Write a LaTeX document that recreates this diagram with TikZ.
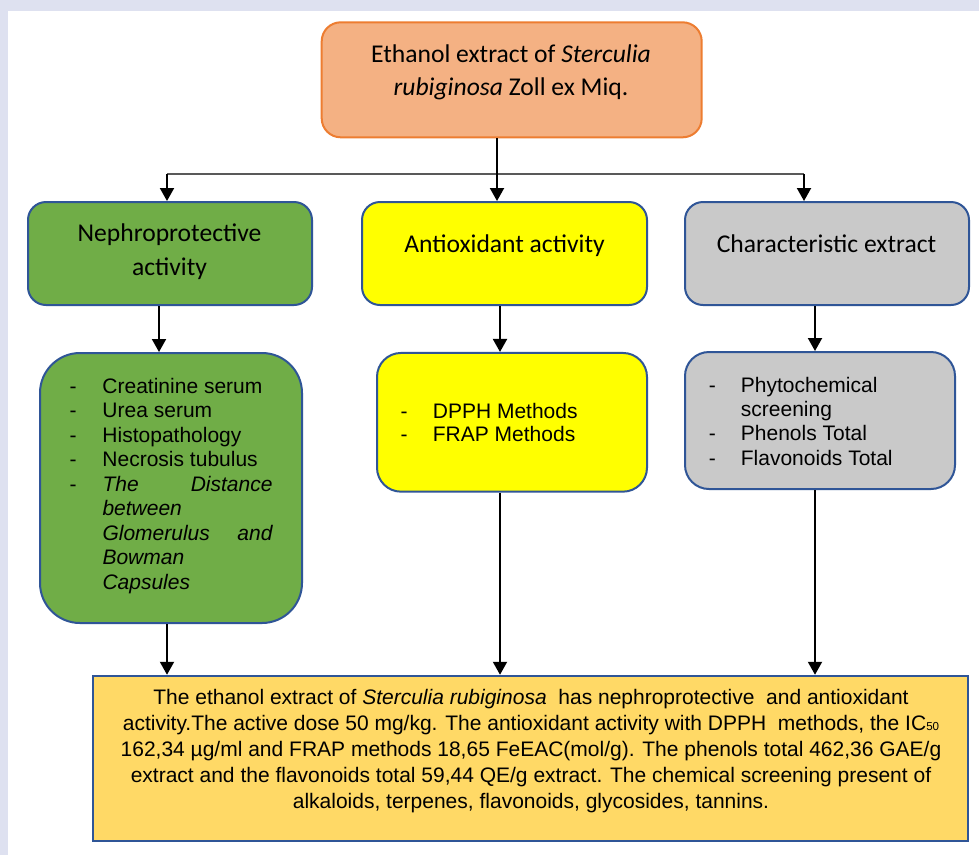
\documentclass[tikz,border=0pt]{standalone}
\usepackage{fontspec}
\setmainfont{Carlito}
\newfontfamily\arial{Liberation Sans}
\usetikzlibrary{arrows.meta}
\definecolor{lav}{HTML}{DEE1F0}
\definecolor{orfill}{HTML}{F4B183}
\definecolor{ordraw}{HTML}{ED7D31}
\definecolor{grfill}{HTML}{70AD47}
\definecolor{yefill}{HTML}{FFFF00}
\definecolor{gyfill}{HTML}{C9C9C9}
\definecolor{gofill}{HTML}{FFD966}
\definecolor{bblue}{HTML}{2F5597}
\definecolor{hgray}{HTML}{595959}
\begin{document}
\begin{tikzpicture}[x=1pt,y=-1pt,
  box/.style={draw=bblue, line width=2pt, inner sep=0pt},
  arr/.style={line width=2pt, -{Triangle[width=14pt,length=13pt]}},
  hline/.style={line width=1.5pt, draw=hgray},
  hd/.style={font=\fontsize{25.6}{33}\selectfont, inner sep=0pt, anchor=base},
  li/.style={font=\arial\fontsize{21}{24.5}\selectfont, inner sep=0pt, anchor=base west},
  bt/.style={font=\arial\fontsize{21}{26}\selectfont, inner sep=0pt, anchor=base},
]
\useasboundingbox (0,0) rectangle (979,855);
\fill[white] (0,0) rectangle (979,855);
\fill[lav] (0,0) rectangle (979,11);
\fill[lav] (0,0) rectangle (8,855);

% boxes
\node[box, fill=orfill, draw=ordraw, rounded corners=19pt, minimum width=380pt, minimum height=115pt] (src) at (511.7,79.8) {};
\node[box, fill=grfill, rounded corners=18pt, minimum width=284pt, minimum height=103pt] (gre1) at (170,253.5) {};
\node[box, fill=yefill, rounded corners=18pt, minimum width=285pt, minimum height=103pt] (yel1) at (504.5,253.5) {};
\node[box, fill=gyfill, rounded corners=18pt, minimum width=284pt, minimum height=103pt] (gry1) at (827,253.5) {};
\node[box, fill=grfill, rounded corners=40pt, minimum width=262pt, minimum height=270pt] (gre2) at (171,488) {};
\node[box, fill=yefill, rounded corners=24pt, minimum width=270pt, minimum height=138.7pt] (yel2) at (512,422.3) {};
\node[box, fill=gyfill, rounded corners=24pt, minimum width=270pt, minimum height=137pt] (gry2) at (820,420.5) {};
\node[box, fill=gofill, line width=2.5pt, minimum width=875pt, minimum height=165pt] (res) at (530.5,758.5) {};

% connector coordinates
\coordinate (hL) at (167,174);
\coordinate (hM) at (497,174);
\coordinate (hR) at (804,174);
\coordinate (a1) at (159,0);
\coordinate (a2) at (500,0);
\coordinate (a3) at (815,0);
\coordinate (b1) at (167,0);
\coordinate (b2) at (500,0);
\coordinate (b3) at (815,0);

\draw[hline] (hL) -- (hR);
\draw[arr] (src.south -| hM) -- (yel1.north -| hM);
\draw[arr] (hL) -- (gre1.north -| hL);
\draw[arr] (hR) -- (gry1.north -| hR);
\draw[arr] (gre1.south -| a1) -- (gre2.north -| a1);
\draw[arr] (yel1.south -| a2) -- (yel2.north -| a2);
\draw[arr] (gry1.south -| a3) -- (gry2.north -| a3);
\draw[arr] (gre2.south -| b1) -- (res.north -| b1);
\draw[arr] (yel2.south -| b2) -- (res.north -| b2);
\draw[arr] (gry2.south -| b3) -- (res.north -| b3);

% headings
\node[hd] (t1) at (511,62.5) {Ethanol extract of \textit{Sterculia}};
\node[hd] (t2) at (511,95.5) {\textit{rubiginosa} Zoll ex Miq.};
\node[hd] (n1) at (169.5,241.7) {Nephroprotective};
\node[hd] (n2) at (169.5,275) {activity};
\node[hd] (y1t) at (504.5,252.3) {Antioxidant activity};
\node[hd] (c1t) at (826.5,252.7) {Characteristic extract};

% green list
\node[li] (g1) at (69.3,393.3) {\makebox[33pt][l]{-}Creatinine serum};
\node[li] (g2) at (69.3,417.8) {\makebox[33pt][l]{-}Urea serum};
\node[li] (g3) at (69.3,442.3) {\makebox[33pt][l]{-}Histopathology};
\node[li] (g4) at (69.3,466.8) {\makebox[33pt][l]{-}Necrosis tubulus};
\node[li] (g5) at (69.3,491.3) {\makebox[33pt][l]{-}\hbox to 170pt{\itshape The\hfill Distance}};
\node[li] (g6) at (102.3,515.8) {\itshape between};
\node[li] (g7) at (102.3,540.3) {\hbox to 170pt{\itshape Glomerulus\hfill and}};
\node[li] (g8) at (102.3,564.8) {\itshape Bowman};
\node[li] (g9) at (102.3,589.3) {\itshape Capsules};

% yellow list
\node[li] (d1) at (400.3,418) {\makebox[32.4pt][l]{-}DPPH Methods};
\node[li] (d2) at (400.3,441.8) {\makebox[32.4pt][l]{-}FRAP Methods};

% grey list
\node[li] (p1) at (708.6,392.3) {\makebox[32.1pt][l]{-}Phytochemical};
\node[li] (p2) at (740.7,416.5) {screening};
\node[li] (p3) at (708.6,440.7) {\makebox[32.1pt][l]{-}Phenols Total};
\node[li] (p4) at (708.6,465) {\makebox[32.1pt][l]{-}Flavonoids Total};

% result text
\node[bt] (r1) at (531,704) {The ethanol extract of \textit{Sterculia rubiginosa}\ \ has nephroprotective\ \ and antioxidant};
\node[bt] (r2) at (531,730) {activity.The active dose 50 mg/kg. The antioxidant activity with DPPH\ \ methods, the IC\raisebox{-0.7pt}{\fontsize{11.6}{12}\selectfont 50}};
\node[bt] (r3) at (531,756) {162,34 µg/ml and FRAP methods 18,65 FeEAC(mol/g). The phenols total 462,36 GAE/g};
\node[bt] (r4) at (531,782) {extract and the flavonoids total 59,44 QE/g extract. The chemical screening present of};
\node[bt] (r5) at (531,808) {alkaloids, terpenes, flavonoids, glycosides, tannins.};
\end{tikzpicture}
\end{document}
